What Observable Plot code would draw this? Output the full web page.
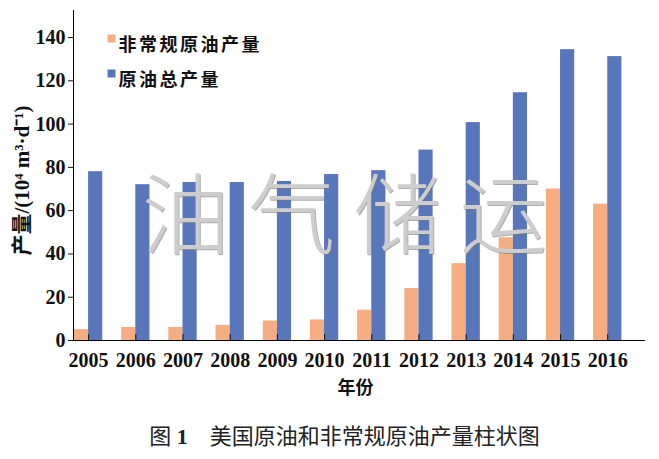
<!DOCTYPE html>
<html>
<head>
<meta charset="utf-8">
<script src="https://cdn.jsdelivr.net/npm/d3@7"></script>
<script src="https://cdn.jsdelivr.net/npm/@observablehq/plot@0.6"></script>
<style>
  html, body { margin: 0; padding: 0; background: #fff; }
  #wrap { width: 659px; }
  #caption {
    width: 659px; height: 49px; line-height: 49px;
    text-align: center; font-family: "Noto Sans CJK SC", sans-serif;
    font-size: 22px; color: #222; padding-left: 30px; box-sizing: border-box;
  }
  #caption .num { font-family: "Liberation Serif", serif; font-weight: bold; }
</style>
</head>
<body>
<div id="wrap"></div>
<div id="caption">图<span class="num"> 1</span>　美国原油和非常规原油产量柱状图</div>
<script>
const years = [2005, 2006, 2007, 2008, 2009, 2010, 2011, 2012, 2013, 2014, 2015, 2016];
const unconventional = [5, 6, 6, 7, 9, 9.5, 14, 24, 35.5, 47.5, 70, 63];
const total = [78, 72, 73, 73, 73.5, 76.7, 78.5, 88, 100.7, 114.5, 134.4, 131.2];
const seriesNames = ["非常规原油产量", "原油总产量"];
const yTicks = [0, 20, 40, 60, 80, 100, 120, 140];
const yLabel = "产量/(10⁴ m³·d⁻¹)";
const xLabel = "年份";
const watermark = "油气储运";

const colors = ["#f5ae82", "#5877ba"];
const xDomain = [2004.68, 2016.8];
const barW = 0.3;

const rows = years.map((year, i) => ({year, unconventional: unconventional[i], total: total[i]}));

const serif = "'Liberation Serif', 'Noto Sans CJK SC', serif";
const cjk = "'Noto Sans CJK SC', sans-serif";

const legendMarks = seriesNames.flatMap((name, i) => [
  Plot.dot([name], {frameAnchor: "top-left", dx: 38, dy: 28 + i * 35, symbol: "square", r: 4.5, fill: colors[i], stroke: "none"}),
  Plot.text([name], {frameAnchor: "top-left", dx: 45, dy: 28 + i * 35, text: d => d, textAnchor: "start",
    fontFamily: cjk, fontSize: 18, fontWeight: "bold", fill: "#111"})
]);

const chart = Plot.plot({
  width: 659, height: 410,
  marginLeft: 73, marginRight: 14, marginTop: 10, marginBottom: 70,
  x: {type: "linear", domain: xDomain},
  y: {domain: [0, 152.5]},
  style: {fontFamily: serif, fontSize: "20px", fontWeight: "bold", color: "#111", background: "#fff"},
  marks: [
    Plot.rectY(rows, {x1: d => d.year - barW, x2: "year", y1: 0, y2: "unconventional", fill: colors[0]}),
    Plot.rectY(rows, {x1: "year", x2: d => d.year + barW, y1: 0, y2: "total", fill: colors[1]}),
    Plot.text([watermark], {frameAnchor: "middle", dx: -5, dy: 44, text: d => d, fontFamily: cjk, fontSize: 88,
      fontWeight: 300, fill: "#777", fillOpacity: 0.6}),
    Plot.text([watermark], {frameAnchor: "middle", dx: -6, dy: 43, text: d => d, fontFamily: cjk, fontSize: 88,
      fontWeight: 300, fill: "#cdcdcd"}),
    Plot.ruleY([0], {stroke: "#000", strokeWidth: 1}),
    Plot.ruleX([xDomain[0]], {stroke: "#000", strokeWidth: 1}),
    Plot.axisY({ticks: yTicks, tickSize: 5, tickPadding: 3, label: null, tickFormat: d3.format("d")}),
    Plot.axisX({ticks: years, tickSize: 0, tickPadding: 12, label: null, tickFormat: d3.format("d")}),
    Plot.axisX({ticks: years, tickSize: 6, dy: -6, label: null, tickFormat: () => ""}),
    Plot.text([xLabel], {frameAnchor: "bottom", dx: -4, dy: 53, text: d => d, fontFamily: cjk, fontSize: 18, fontWeight: "bold", fill: "#111"}),
    Plot.text([yLabel], {frameAnchor: "left", dx: -51, dy: 5, rotate: -90, textAnchor: "middle", text: d => d, fontFamily: serif, fontSize: 21, fontWeight: "bold", fill: "#111"}),
    ...legendMarks
  ]
});

document.getElementById("wrap").appendChild(chart);
const allText = d3.select(chart).selectAll("text");
allText.filter(function() { return seriesNames.includes(this.textContent); }).style("letter-spacing", "2.5px");
allText.filter(function() { return this.textContent === watermark; }).style("letter-spacing", "18px");
</script>
</body>
</html>
